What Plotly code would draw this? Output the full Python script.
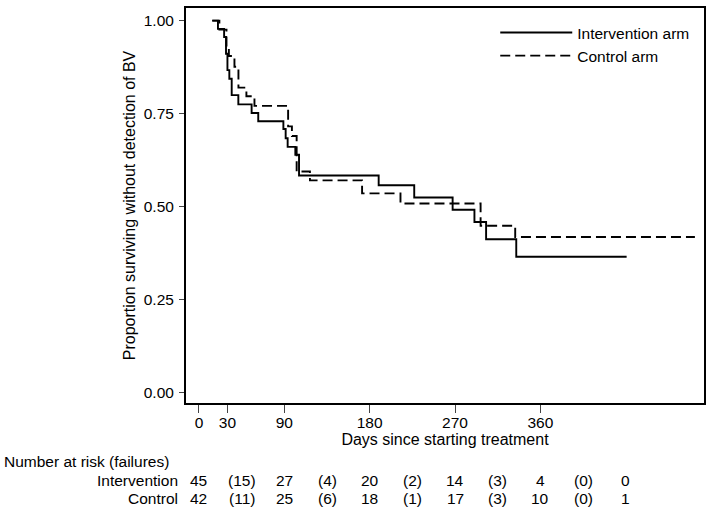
import plotly.graph_objects as go

# Kaplan-Meier step data (days, survival)
int_days = [14, 20, 26.5, 28.5, 30, 32, 34.5, 41.5, 55.5, 62.5, 89, 91.4, 93.5, 101.6, 105.5,
            189.5, 227, 267.5, 290.5, 302.8, 334.6, 451]
int_surv = [1.0, 0.978, 0.956, 0.911, 0.867, 0.844, 0.80, 0.775, 0.752, 0.73, 0.709, 0.684, 0.661, 0.64, 0.584,
            0.558, 0.525, 0.492, 0.459, 0.413, 0.366, 0.366]

ctl_days = [14, 21.5, 29, 31.5, 37.4, 41.6, 50, 58.5, 94, 98, 103, 117, 172, 212.5, 297, 333.5, 523]
ctl_surv = [1.0, 0.976, 0.929, 0.905, 0.876, 0.82, 0.797, 0.771, 0.716, 0.69, 0.595, 0.571, 0.536, 0.509, 0.449, 0.419, 0.419]

x_ticks = [0, 30, 90, 180, 270, 360]
y_ticks = [0, 0.25, 0.5, 0.75, 1.0]

# Number at risk table
risk_days = [0, 90, 180, 270, 360, 450]
fail_days = [45, 135, 225, 315, 405]
int_at_risk = [45, 27, 20, 14, 4, 0]
int_failures = [15, 4, 2, 3, 0]
ctl_at_risk = [42, 25, 18, 17, 10, 1]
ctl_failures = [11, 6, 1, 3, 0]

FONT = "Liberation Sans, Arial, sans-serif"
FS = 15.5

fig = go.Figure()
fig.add_trace(go.Scatter(x=int_days, y=int_surv, mode="lines", line_shape="hv",
                         name="Intervention arm", line=dict(color="black", width=1.9)))
fig.add_trace(go.Scatter(x=ctl_days, y=ctl_surv, mode="lines", line_shape="hv",
                         name="Control arm", line=dict(color="black", width=1.9, dash="10px,5px")))

ann = []
ann.append(dict(text="Number at risk (failures)", x=-0.355, xref="paper", xanchor="left",
                y=-0.147, yref="paper", yanchor="middle", showarrow=False))
rows = [("Intervention", int_at_risk, int_failures, -0.195),
        ("Control", ctl_at_risk, ctl_failures, -0.241)]
for label, atrisk, fails, yy in rows:
    ann.append(dict(text=label, x=-0.012, xref="paper", xanchor="right",
                    y=yy, yref="paper", yanchor="middle", showarrow=False))
    for d, v in zip(risk_days, atrisk):
        ann.append(dict(text=str(v), x=d, xref="x", xanchor="center",
                        y=yy, yref="paper", yanchor="middle", showarrow=False))
    for d, v in zip(fail_days, fails):
        ann.append(dict(text="(%d)" % v, x=d, xref="x", xanchor="center",
                        y=yy, yref="paper", yanchor="middle", showarrow=False))

fig.update_layout(
    width=714, height=516,
    margin=dict(l=186, r=10, t=8, b=113, autoexpand=False),
    paper_bgcolor="white", plot_bgcolor="white",
    font=dict(family=FONT, size=FS, color="black"),
    showlegend=True,
    legend=dict(x=0.597, y=0.98, xanchor="left", yanchor="top",
                bgcolor="rgba(0,0,0,0)", font=dict(size=FS), tracegroupgap=0,
                itemwidth=72),
    annotations=ann,
    xaxis=dict(range=[-13.7, 532.6], tickvals=x_ticks, ticks="outside", ticklen=8,
               showline=True, linecolor="black", linewidth=2, mirror=True,
               showgrid=False, zeroline=False, automargin=False, ticklabelstandoff=-4,
               title=dict(text="Days since starting treatment", standoff=0, font=dict(size=16))),
    yaxis=dict(range=[-0.027, 1.034], tickvals=y_ticks, tickformat=".2f", ticks="outside", ticklen=5,
               showline=True, linecolor="black", linewidth=2, mirror=True,
               showgrid=False, zeroline=False, automargin=False, ticklabelstandoff=2,
               title=dict(text="Proportion surviving without detection of BV", standoff=4, font=dict(size=16))),
)

fig.write_html("out.html", config={"displayModeBar": False},
               post_script="document.body.style.margin='0';document.body.style.padding='0';")
